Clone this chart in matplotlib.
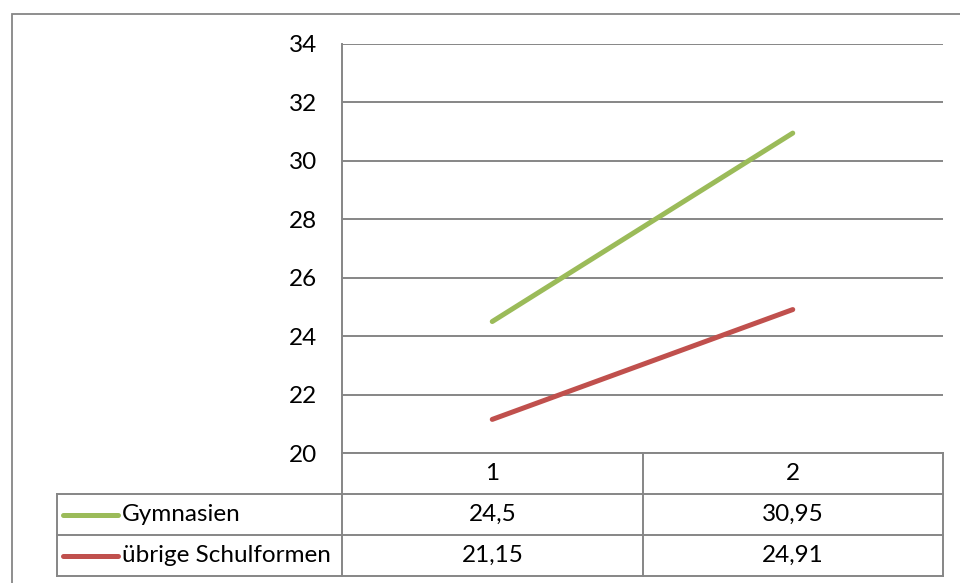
import numpy as np
import matplotlib.pyplot as plt
from matplotlib.patches import Rectangle

plt.rcParams['font.family'] = ['Lato', 'DejaVu Sans']

categories = [1, 2]
series_names = ['Gymnasien', 'übrige Schulformen']
gymnasien = [24.5, 30.95]
uebrige = [21.15, 24.91]
series_colors = ['#9BBB59', '#C0504D']
y_ticks = [20, 22, 24, 26, 28, 30, 32, 34]

W, H = 960, 583
grid_col = '#868686'
fs = 17.5

def fx(px):
    return px / W

def fy(py):
    return 1 - py / H

fig = plt.figure(figsize=(9.6, 5.83), dpi=100)

# outer chart border, runs off the right and bottom edge
fig.patches.append(Rectangle((fx(12), fy(600)), fx(980 - 12), 600 / H - 14 / H,
                             transform=fig.transFigure, fill=False,
                             edgecolor=grid_col, lw=1.3, clip_on=False))

# plot area
ax = fig.add_axes([fx(342), fy(453), fx(943 - 342), (453 - 44) / H])
x = np.arange(1, len(categories) + 1)
for vals, col in zip([gymnasien, uebrige], series_colors):
    ax.plot(x, vals, color=col, lw=3.6, solid_capstyle='round')
ax.set_xlim(0.5, len(categories) + 0.5)
ax.set_ylim(y_ticks[0], y_ticks[-1])
ax.set_yticks(y_ticks)
ax.set_yticklabels([str(t) for t in y_ticks], fontsize=fs)
ax.set_xticks([])
ax.tick_params(axis='y', length=0, pad=18)
ax.yaxis.grid(True, color=grid_col, lw=1.4)
ax.set_axisbelow(True)
for s in ['top', 'right', 'bottom']:
    ax.spines[s].set_visible(False)
ax.spines['left'].set_color(grid_col)
ax.spines['left'].set_linewidth(1.4)

# data table underneath
n_rows = 1 + len(series_names)
tab = fig.add_axes([fx(57), fy(576), fx(943 - 57), (576 - 453) / H])
x_left = 0.5 - (342 - 57) / 300
tab.set_xlim(x_left, len(categories) + 0.5)
tab.set_ylim(n_rows, 0)
tab.axis('off')

lk = dict(color=grid_col, lw=1.4, clip_on=False)
edges = [0.5 + i for i in range(len(categories) + 1)]
# header row
tab.plot([edges[0], edges[-1]], [0, 0], **lk)
for e in edges:
    tab.plot([e, e], [0, 1], **lk)
for xi, c in zip(x, categories):
    tab.text(xi, 0.5, str(c), ha='center', va='center', fontsize=fs)
# series rows
for r in range(1, n_rows + 1):
    tab.plot([x_left, edges[-1]], [r, r], **lk)
for e in [x_left] + edges:
    tab.plot([e, e], [1, n_rows], **lk)

key_w = (118 - 63) / 300
for i, (name, vals, col) in enumerate(zip(series_names, [gymnasien, uebrige], series_colors)):
    yc = i + 1.5
    k0 = x_left + 6 / 300
    tab.plot([k0, k0 + key_w], [yc, yc], color=col, lw=3.6, solid_capstyle='round')
    tab.text(k0 + key_w + 4 / 300, yc, name, ha='left', va='center', fontsize=fs)
    for xi, v in zip(x, vals):
        tab.text(xi, yc, str(v).replace('.', ','), ha='center', va='center', fontsize=fs)

fig.savefig('out.png', dpi=100)
